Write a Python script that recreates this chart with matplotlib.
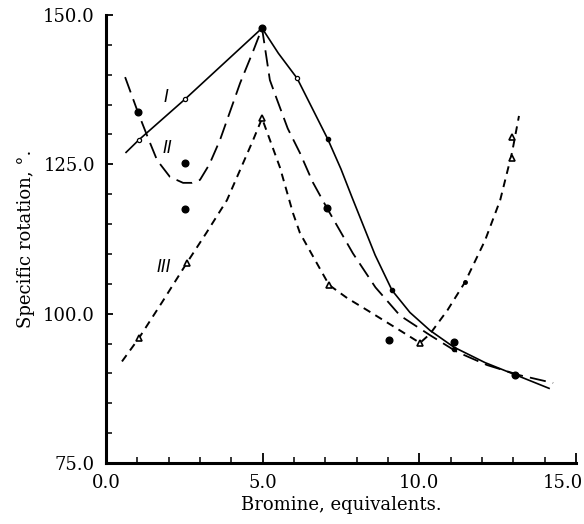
import matplotlib
matplotlib.use("Agg")
import matplotlib.pyplot as plt
from matplotlib.ticker import MultipleLocator, FuncFormatter, FormatStrFormatter

plt.rcParams['font.family'] = ['DejaVu Serif']

# Curve I (solid)
curve1_x = [0.64, 1.05, 2.52, 4.98, 5.5, 6.1, 7.08, 7.5, 7.85, 8.59, 9.13, 9.7, 10.34, 11.1, 12.1, 13.05, 14.14]
curve1_y = [127.0, 129.1, 135.9, 147.8, 143.6, 139.4, 129.2, 124.2, 119.5, 109.8, 103.9, 100.2, 97.2, 94.4, 91.8, 89.8, 87.5]
pts1_open_x = [1.05, 2.52, 6.1]
pts1_open_y = [129.1, 135.9, 139.4]
pts1_dot_x = [7.08, 9.13, 11.1]
pts1_dot_y = [129.2, 103.9, 94.1]

# Curve II (long dash)
curve2_x = [0.61, 1.02, 1.35, 1.63, 2.04, 2.46, 2.75, 3.0, 3.3, 3.64, 4.28, 4.7, 4.98, 5.23, 5.46, 5.8, 6.19, 6.6, 7.05, 7.88, 8.6, 9.38, 10.34, 11.2, 12.16, 13.2, 14.27]
curve2_y = [139.6, 133.7, 129.3, 125.7, 122.9, 121.9, 121.9, 122.4, 125.0, 129.1, 138.6, 144.0, 147.8, 139.1, 135.8, 131.0, 126.9, 122.0, 117.7, 110.1, 104.4, 99.7, 96.4, 93.6, 91.4, 89.7, 88.4]
pts2_x = [1.02, 2.52, 2.52, 4.98, 7.05, 9.03, 11.1, 13.05]
pts2_y = [133.7, 125.2, 117.5, 147.8, 117.7, 95.6, 95.2, 89.7]

# Curve III (short dash)
curve3_x = [0.51, 1.05, 1.8, 2.58, 3.2, 3.86, 4.69, 4.98, 5.55, 5.97, 6.19, 6.83, 7.12, 7.7, 8.33, 9.38, 10.02, 10.34, 10.9, 11.46, 12.1, 12.58, 12.96, 13.18]
curve3_y = [92.0, 95.9, 102.0, 108.5, 113.5, 119.0, 129.0, 132.7, 124.5, 116.8, 113.5, 107.5, 104.8, 102.6, 100.6, 97.2, 95.1, 96.6, 100.6, 105.3, 112.3, 119.0, 127.0, 133.1]
pts3_x = [1.05, 2.58, 4.98, 7.12, 10.02, 12.96, 12.96]
pts3_y = [95.9, 108.5, 132.7, 104.8, 95.1, 129.6, 126.1]
pts3_dot_x = [11.46]
pts3_dot_y = [105.3]

labels = ["I", "II", "III"]
label_x = [1.9, 1.95, 1.85]
label_y = [136.3, 127.7, 107.8]

x_max = 15
fig = plt.figure(figsize=(5.84, 5.24), dpi=100)
ax = fig.add_axes([106/584, 1-463/524, 470/584, 448/524])

ax.plot(curve1_x, curve1_y, color='black', lw=1.2, ls='-')
ax.plot(curve2_x, curve2_y, color='black', lw=1.3, ls=(0, (9, 4)))
ax.plot(curve3_x, curve3_y, color='black', lw=1.4, ls=(0, (4, 3)))

ax.plot(pts1_open_x, pts1_open_y, 'o', ms=3, mfc='white', mec='black', mew=0.9)
ax.plot(pts1_dot_x, pts1_dot_y, 'o', ms=3, mfc='black', mec='black')
ax.plot(pts2_x, pts2_y, 'o', ms=4.8, mfc='black', mec='black')
ax.plot(pts3_x, pts3_y, '^', ms=5, mfc='white', mec='black', mew=1.2)
ax.plot(pts3_dot_x, pts3_dot_y, 'o', ms=2.5, mfc='black', mec='black')

for t, x, y in zip(labels, label_x, label_y):
    ax.text(x, y, t, fontsize=12, ha='center', va='center', style='italic',
            family=['DejaVu Sans'], fontweight='light')

ax.set_xlim(0, x_max)
ax.set_ylim(75, 150)
ax.xaxis.set_major_locator(MultipleLocator(5))
ax.xaxis.set_minor_locator(MultipleLocator(1))
ax.yaxis.set_major_locator(MultipleLocator(25))
ax.yaxis.set_minor_locator(MultipleLocator(5))
ax.xaxis.set_major_formatter(FuncFormatter(lambda v, p: '' if abs(v - x_max) < 1e-6 else f'{v:.1f}'))
ax.yaxis.set_major_formatter(FormatStrFormatter('%.1f'))
# last x tick label placed flush with the figure edge, as in the scan
ax.annotate(f'{x_max:.1f}', xy=(1, 0), xycoords='axes fraction', xytext=(5, -8),
            textcoords='offset points', ha='right', va='top', fontsize=13)

for s in ['top', 'right']:
    ax.spines[s].set_visible(False)
for s in ['left', 'bottom']:
    ax.spines[s].set_linewidth(2.2)

ax.tick_params(which='major', direction='in', length=7, width=1.3, labelsize=13, pad=8, color='black')
ax.tick_params(which='minor', direction='in', length=4, width=1.1)
ax.tick_params(axis='y', which='major', length=5)

xt = ax.xaxis.get_major_ticks()
xt[-1].tick1line.set_markersize(12)
xt[-1].tick1line.set_markeredgewidth(2)
yt = ax.yaxis.get_major_ticks()
yt[-1].tick1line.set_markersize(14)
yt[-1].tick1line.set_markeredgewidth(2)

ax.set_xlabel('Bromine, equivalents.', fontsize=13, labelpad=3)
ax.set_ylabel('Specific rotation, °.', fontsize=13, labelpad=6)

fig.savefig('out.png', dpi=100)
